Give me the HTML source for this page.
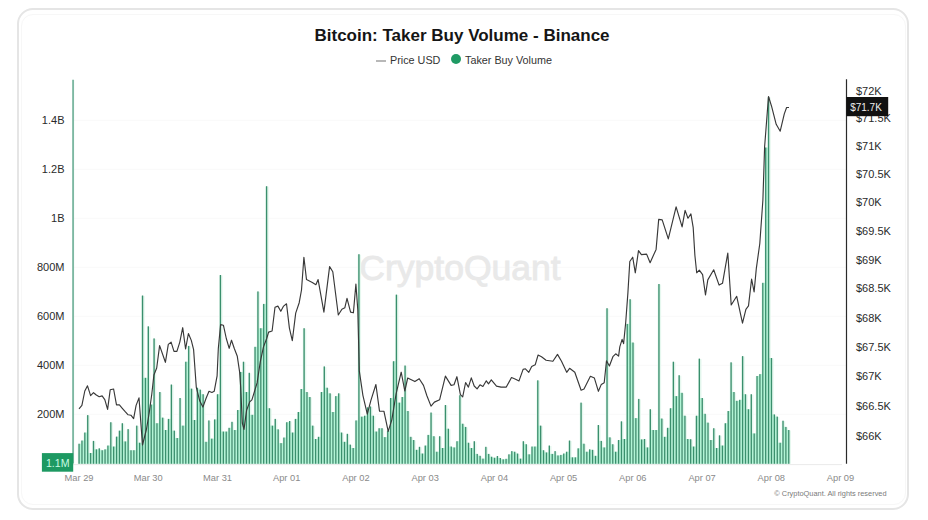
<!DOCTYPE html>
<html><head><meta charset="utf-8"><style>
html,body{margin:0;padding:0;background:#fff;width:928px;height:520px;overflow:hidden}
body{position:relative;font-family:"Liberation Sans",sans-serif}
.card{position:absolute;left:17px;top:8px;width:892px;height:502px;border:2px solid #e5e5e5;border-radius:16px;box-sizing:border-box}
.card2{position:absolute;left:20.5px;top:14px;width:885px;height:491px;border:1px solid #f7f7f7;border-radius:12px;box-sizing:border-box}
.title{position:absolute;left:314.5px;top:26px;font-weight:bold;font-size:17px;color:#151515;white-space:nowrap;line-height:20px}
.legend{position:absolute;top:53px;left:0;width:928px;height:14px;font-size:11px;color:#333;white-space:nowrap}
.yl{position:absolute;left:0;width:64.5px;text-align:right;font-size:11px;color:#2a2a2a;white-space:nowrap;line-height:13px}
.yr{position:absolute;left:856px;font-size:11px;color:#2a2a2a;white-space:nowrap;line-height:13px}
.xl{position:absolute;top:472.5px;width:40px;text-align:center;font-size:9.3px;color:#8a8a8a;white-space:nowrap;line-height:11px}
svg{position:absolute;left:0;top:0}
</style></head><body>
<div class="card"></div><div class="card2"></div>
<svg width="928" height="520" viewBox="0 0 928 520">
<line x1="73" x2="846" y1="120.3" y2="120.3" stroke="#f9f9f9" stroke-width="1"/><line x1="73" x2="846" y1="169.3" y2="169.3" stroke="#f9f9f9" stroke-width="1"/><line x1="73" x2="846" y1="218.3" y2="218.3" stroke="#f9f9f9" stroke-width="1"/><line x1="73" x2="846" y1="267.3" y2="267.3" stroke="#f9f9f9" stroke-width="1"/><line x1="73" x2="846" y1="316.3" y2="316.3" stroke="#f9f9f9" stroke-width="1"/><line x1="73" x2="846" y1="365.3" y2="365.3" stroke="#f9f9f9" stroke-width="1"/><line x1="73" x2="846" y1="414.3" y2="414.3" stroke="#f9f9f9" stroke-width="1"/>
<text x="460" y="280" text-anchor="middle" font-family="Liberation Sans" font-size="35.5" fill="#e9e9e9" stroke="#e9e9e9" stroke-width="0.9">CryptoQuant</text>
<line x1="73" x2="842" y1="464.6" y2="464.6" stroke="#ebebeb" stroke-width="1"/>
<rect x="77.70" y="444.2" width="3.55" height="19.6" fill="#e6f8ef"/><rect x="80.59" y="441.0" width="3.55" height="22.8" fill="#e6f8ef"/><rect x="83.47" y="433.0" width="3.55" height="30.8" fill="#e6f8ef"/><rect x="86.36" y="415.6" width="3.55" height="48.2" fill="#e6f8ef"/><rect x="89.24" y="453.5" width="3.55" height="10.3" fill="#e6f8ef"/><rect x="92.12" y="441.4" width="3.55" height="22.4" fill="#e6f8ef"/><rect x="95.01" y="449.8" width="3.55" height="14.0" fill="#e6f8ef"/><rect x="97.89" y="448.8" width="3.55" height="15.0" fill="#e6f8ef"/><rect x="100.78" y="450.7" width="3.55" height="13.1" fill="#e6f8ef"/><rect x="103.67" y="449.8" width="3.55" height="14.0" fill="#e6f8ef"/><rect x="106.55" y="446.0" width="3.55" height="17.8" fill="#e6f8ef"/><rect x="109.44" y="422.7" width="3.55" height="41.1" fill="#e6f8ef"/><rect x="112.32" y="447.0" width="3.55" height="16.8" fill="#e6f8ef"/><rect x="115.20" y="437.1" width="3.55" height="26.7" fill="#e6f8ef"/><rect x="118.09" y="431.1" width="3.55" height="32.7" fill="#e6f8ef"/><rect x="120.98" y="423.7" width="3.55" height="40.1" fill="#e6f8ef"/><rect x="123.86" y="441.9" width="3.55" height="21.9" fill="#e6f8ef"/><rect x="126.74" y="429.6" width="3.55" height="34.2" fill="#e6f8ef"/><rect x="129.63" y="450.7" width="3.55" height="13.1" fill="#e6f8ef"/><rect x="132.52" y="450.7" width="3.55" height="13.1" fill="#e6f8ef"/><rect x="135.40" y="426.1" width="3.55" height="37.7" fill="#e6f8ef"/><rect x="138.29" y="443.2" width="3.55" height="20.6" fill="#e6f8ef"/><rect x="141.17" y="296.0" width="3.55" height="167.8" fill="#e6f8ef"/><rect x="144.06" y="378.3" width="3.55" height="85.5" fill="#e6f8ef"/><rect x="146.94" y="326.8" width="3.55" height="137.0" fill="#e6f8ef"/><rect x="149.83" y="405.0" width="3.55" height="58.8" fill="#e6f8ef"/><rect x="152.71" y="338.9" width="3.55" height="124.9" fill="#e6f8ef"/><rect x="155.60" y="423.7" width="3.55" height="40.1" fill="#e6f8ef"/><rect x="158.48" y="392.5" width="3.55" height="71.3" fill="#e6f8ef"/><rect x="161.37" y="418.1" width="3.55" height="45.7" fill="#e6f8ef"/><rect x="164.25" y="430.5" width="3.55" height="33.3" fill="#e6f8ef"/><rect x="167.13" y="419.4" width="3.55" height="44.4" fill="#e6f8ef"/><rect x="170.02" y="385.0" width="3.55" height="78.8" fill="#e6f8ef"/><rect x="172.91" y="431.1" width="3.55" height="32.7" fill="#e6f8ef"/><rect x="175.79" y="438.5" width="3.55" height="25.3" fill="#e6f8ef"/><rect x="178.68" y="398.5" width="3.55" height="65.3" fill="#e6f8ef"/><rect x="181.56" y="426.1" width="3.55" height="37.7" fill="#e6f8ef"/><rect x="184.44" y="362.2" width="3.55" height="101.6" fill="#e6f8ef"/><rect x="187.33" y="346.4" width="3.55" height="117.4" fill="#e6f8ef"/><rect x="190.22" y="389.1" width="3.55" height="74.7" fill="#e6f8ef"/><rect x="193.10" y="420.5" width="3.55" height="43.3" fill="#e6f8ef"/><rect x="195.99" y="388.2" width="3.55" height="75.6" fill="#e6f8ef"/><rect x="198.87" y="390.1" width="3.55" height="73.7" fill="#e6f8ef"/><rect x="201.75" y="394.7" width="3.55" height="69.1" fill="#e6f8ef"/><rect x="204.64" y="442.3" width="3.55" height="21.5" fill="#e6f8ef"/><rect x="207.53" y="420.9" width="3.55" height="42.9" fill="#e6f8ef"/><rect x="210.41" y="439.1" width="3.55" height="24.7" fill="#e6f8ef"/><rect x="213.30" y="419.9" width="3.55" height="43.9" fill="#e6f8ef"/><rect x="216.18" y="394.7" width="3.55" height="69.1" fill="#e6f8ef"/><rect x="219.06" y="275.5" width="3.55" height="188.3" fill="#e6f8ef"/><rect x="221.95" y="432.0" width="3.55" height="31.8" fill="#e6f8ef"/><rect x="224.84" y="432.0" width="3.55" height="31.8" fill="#e6f8ef"/><rect x="227.72" y="428.3" width="3.55" height="35.5" fill="#e6f8ef"/><rect x="230.61" y="422.3" width="3.55" height="41.5" fill="#e6f8ef"/><rect x="233.49" y="430.5" width="3.55" height="33.3" fill="#e6f8ef"/><rect x="236.38" y="410.5" width="3.55" height="53.3" fill="#e6f8ef"/><rect x="239.26" y="372.5" width="3.55" height="91.3" fill="#e6f8ef"/><rect x="242.15" y="362.2" width="3.55" height="101.6" fill="#e6f8ef"/><rect x="245.03" y="392.5" width="3.55" height="71.3" fill="#e6f8ef"/><rect x="247.91" y="373.3" width="3.55" height="90.5" fill="#e6f8ef"/><rect x="250.80" y="415.3" width="3.55" height="48.5" fill="#e6f8ef"/><rect x="253.69" y="347.3" width="3.55" height="116.5" fill="#e6f8ef"/><rect x="256.57" y="291.9" width="3.55" height="171.9" fill="#e6f8ef"/><rect x="259.45" y="328.7" width="3.55" height="135.1" fill="#e6f8ef"/><rect x="262.34" y="304.4" width="3.55" height="159.4" fill="#e6f8ef"/><rect x="265.22" y="186.7" width="3.55" height="277.1" fill="#e6f8ef"/><rect x="268.11" y="408.7" width="3.55" height="55.1" fill="#e6f8ef"/><rect x="271.00" y="426.1" width="3.55" height="37.7" fill="#e6f8ef"/><rect x="273.88" y="419.4" width="3.55" height="44.4" fill="#e6f8ef"/><rect x="276.77" y="429.8" width="3.55" height="34.0" fill="#e6f8ef"/><rect x="279.65" y="443.6" width="3.55" height="20.2" fill="#e6f8ef"/><rect x="282.54" y="438.0" width="3.55" height="25.8" fill="#e6f8ef"/><rect x="285.42" y="422.7" width="3.55" height="41.1" fill="#e6f8ef"/><rect x="288.31" y="421.5" width="3.55" height="42.3" fill="#e6f8ef"/><rect x="291.19" y="433.0" width="3.55" height="30.8" fill="#e6f8ef"/><rect x="294.07" y="419.4" width="3.55" height="44.4" fill="#e6f8ef"/><rect x="296.96" y="412.5" width="3.55" height="51.3" fill="#e6f8ef"/><rect x="299.84" y="389.5" width="3.55" height="74.3" fill="#e6f8ef"/><rect x="302.73" y="328.7" width="3.55" height="135.1" fill="#e6f8ef"/><rect x="305.62" y="392.5" width="3.55" height="71.3" fill="#e6f8ef"/><rect x="308.50" y="397.5" width="3.55" height="66.3" fill="#e6f8ef"/><rect x="311.38" y="426.1" width="3.55" height="37.7" fill="#e6f8ef"/><rect x="314.27" y="439.5" width="3.55" height="24.3" fill="#e6f8ef"/><rect x="317.16" y="437.3" width="3.55" height="26.5" fill="#e6f8ef"/><rect x="320.04" y="392.5" width="3.55" height="71.3" fill="#e6f8ef"/><rect x="322.93" y="366.9" width="3.55" height="96.9" fill="#e6f8ef"/><rect x="325.81" y="388.2" width="3.55" height="75.6" fill="#e6f8ef"/><rect x="328.69" y="393.8" width="3.55" height="70.0" fill="#e6f8ef"/><rect x="331.58" y="412.5" width="3.55" height="51.3" fill="#e6f8ef"/><rect x="334.46" y="396.6" width="3.55" height="67.2" fill="#e6f8ef"/><rect x="337.35" y="393.8" width="3.55" height="70.0" fill="#e6f8ef"/><rect x="340.23" y="433.0" width="3.55" height="30.8" fill="#e6f8ef"/><rect x="343.12" y="442.3" width="3.55" height="21.5" fill="#e6f8ef"/><rect x="346.01" y="434.3" width="3.55" height="29.5" fill="#e6f8ef"/><rect x="348.89" y="445.1" width="3.55" height="18.7" fill="#e6f8ef"/><rect x="351.78" y="448.5" width="3.55" height="15.3" fill="#e6f8ef"/><rect x="354.66" y="420.9" width="3.55" height="42.9" fill="#e6f8ef"/><rect x="357.55" y="254.7" width="3.55" height="209.1" fill="#e6f8ef"/><rect x="360.43" y="417.1" width="3.55" height="46.7" fill="#e6f8ef"/><rect x="363.31" y="416.2" width="3.55" height="47.6" fill="#e6f8ef"/><rect x="366.20" y="407.8" width="3.55" height="56.0" fill="#e6f8ef"/><rect x="369.08" y="406.9" width="3.55" height="56.9" fill="#e6f8ef"/><rect x="371.97" y="416.2" width="3.55" height="47.6" fill="#e6f8ef"/><rect x="374.85" y="432.0" width="3.55" height="31.8" fill="#e6f8ef"/><rect x="377.74" y="428.7" width="3.55" height="35.1" fill="#e6f8ef"/><rect x="380.62" y="428.7" width="3.55" height="35.1" fill="#e6f8ef"/><rect x="383.51" y="437.6" width="3.55" height="26.2" fill="#e6f8ef"/><rect x="386.40" y="431.1" width="3.55" height="32.7" fill="#e6f8ef"/><rect x="389.28" y="398.5" width="3.55" height="65.3" fill="#e6f8ef"/><rect x="392.17" y="361.7" width="3.55" height="102.1" fill="#e6f8ef"/><rect x="395.05" y="295.1" width="3.55" height="168.7" fill="#e6f8ef"/><rect x="397.94" y="403.1" width="3.55" height="60.7" fill="#e6f8ef"/><rect x="400.82" y="397.5" width="3.55" height="66.3" fill="#e6f8ef"/><rect x="403.70" y="366.0" width="3.55" height="97.8" fill="#e6f8ef"/><rect x="406.59" y="411.5" width="3.55" height="52.3" fill="#e6f8ef"/><rect x="409.47" y="437.3" width="3.55" height="26.5" fill="#e6f8ef"/><rect x="412.36" y="440.5" width="3.55" height="23.3" fill="#e6f8ef"/><rect x="415.24" y="450.3" width="3.55" height="13.5" fill="#e6f8ef"/><rect x="418.13" y="447.3" width="3.55" height="16.5" fill="#e6f8ef"/><rect x="421.02" y="454.0" width="3.55" height="9.8" fill="#e6f8ef"/><rect x="423.90" y="446.0" width="3.55" height="17.8" fill="#e6f8ef"/><rect x="426.79" y="435.4" width="3.55" height="28.4" fill="#e6f8ef"/><rect x="429.67" y="413.0" width="3.55" height="50.8" fill="#e6f8ef"/><rect x="432.56" y="436.7" width="3.55" height="27.1" fill="#e6f8ef"/><rect x="435.44" y="452.2" width="3.55" height="11.6" fill="#e6f8ef"/><rect x="438.32" y="436.7" width="3.55" height="27.1" fill="#e6f8ef"/><rect x="441.21" y="448.5" width="3.55" height="15.3" fill="#e6f8ef"/><rect x="444.09" y="405.5" width="3.55" height="58.3" fill="#e6f8ef"/><rect x="446.98" y="429.2" width="3.55" height="34.6" fill="#e6f8ef"/><rect x="449.86" y="447.0" width="3.55" height="16.8" fill="#e6f8ef"/><rect x="452.75" y="447.9" width="3.55" height="15.9" fill="#e6f8ef"/><rect x="455.63" y="441.7" width="3.55" height="22.1" fill="#e6f8ef"/><rect x="458.52" y="395.7" width="3.55" height="68.1" fill="#e6f8ef"/><rect x="461.41" y="424.2" width="3.55" height="39.6" fill="#e6f8ef"/><rect x="464.29" y="427.4" width="3.55" height="36.4" fill="#e6f8ef"/><rect x="467.18" y="443.2" width="3.55" height="20.6" fill="#e6f8ef"/><rect x="470.06" y="448.5" width="3.55" height="15.3" fill="#e6f8ef"/><rect x="472.94" y="441.7" width="3.55" height="22.1" fill="#e6f8ef"/><rect x="475.83" y="454.4" width="3.55" height="9.4" fill="#e6f8ef"/><rect x="478.71" y="456.3" width="3.55" height="7.5" fill="#e6f8ef"/><rect x="481.60" y="459.1" width="3.55" height="4.7" fill="#e6f8ef"/><rect x="484.48" y="447.3" width="3.55" height="16.5" fill="#e6f8ef"/><rect x="487.37" y="454.4" width="3.55" height="9.4" fill="#e6f8ef"/><rect x="490.25" y="457.2" width="3.55" height="6.6" fill="#e6f8ef"/><rect x="493.14" y="458.2" width="3.55" height="5.6" fill="#e6f8ef"/><rect x="496.03" y="456.5" width="3.55" height="7.3" fill="#e6f8ef"/><rect x="498.91" y="458.5" width="3.55" height="5.3" fill="#e6f8ef"/><rect x="501.80" y="459.8" width="3.55" height="4.0" fill="#e6f8ef"/><rect x="504.68" y="459.3" width="3.55" height="4.5" fill="#e6f8ef"/><rect x="507.56" y="454.8" width="3.55" height="9.0" fill="#e6f8ef"/><rect x="510.45" y="451.6" width="3.55" height="12.2" fill="#e6f8ef"/><rect x="513.33" y="452.2" width="3.55" height="11.6" fill="#e6f8ef"/><rect x="516.22" y="454.0" width="3.55" height="9.8" fill="#e6f8ef"/><rect x="519.10" y="459.1" width="3.55" height="4.7" fill="#e6f8ef"/><rect x="521.99" y="441.7" width="3.55" height="22.1" fill="#e6f8ef"/><rect x="524.87" y="444.7" width="3.55" height="19.1" fill="#e6f8ef"/><rect x="527.76" y="454.8" width="3.55" height="9.0" fill="#e6f8ef"/><rect x="530.64" y="447.0" width="3.55" height="16.8" fill="#e6f8ef"/><rect x="533.53" y="447.0" width="3.55" height="16.8" fill="#e6f8ef"/><rect x="536.41" y="380.8" width="3.55" height="83.0" fill="#e6f8ef"/><rect x="539.30" y="426.1" width="3.55" height="37.7" fill="#e6f8ef"/><rect x="542.18" y="450.7" width="3.55" height="13.1" fill="#e6f8ef"/><rect x="545.07" y="452.9" width="3.55" height="10.9" fill="#e6f8ef"/><rect x="547.95" y="446.0" width="3.55" height="17.8" fill="#e6f8ef"/><rect x="550.84" y="454.4" width="3.55" height="9.4" fill="#e6f8ef"/><rect x="553.72" y="451.6" width="3.55" height="12.2" fill="#e6f8ef"/><rect x="556.61" y="455.9" width="3.55" height="7.9" fill="#e6f8ef"/><rect x="559.49" y="455.4" width="3.55" height="8.4" fill="#e6f8ef"/><rect x="562.38" y="454.0" width="3.55" height="9.8" fill="#e6f8ef"/><rect x="565.26" y="452.2" width="3.55" height="11.6" fill="#e6f8ef"/><rect x="568.15" y="441.0" width="3.55" height="22.8" fill="#e6f8ef"/><rect x="571.03" y="457.8" width="3.55" height="6.0" fill="#e6f8ef"/><rect x="573.92" y="457.8" width="3.55" height="6.0" fill="#e6f8ef"/><rect x="576.80" y="448.8" width="3.55" height="15.0" fill="#e6f8ef"/><rect x="579.69" y="403.1" width="3.55" height="60.7" fill="#e6f8ef"/><rect x="582.57" y="444.2" width="3.55" height="19.6" fill="#e6f8ef"/><rect x="585.46" y="452.2" width="3.55" height="11.6" fill="#e6f8ef"/><rect x="588.34" y="449.8" width="3.55" height="14.0" fill="#e6f8ef"/><rect x="591.23" y="450.3" width="3.55" height="13.5" fill="#e6f8ef"/><rect x="594.11" y="456.3" width="3.55" height="7.5" fill="#e6f8ef"/><rect x="597.00" y="425.5" width="3.55" height="38.3" fill="#e6f8ef"/><rect x="599.88" y="441.4" width="3.55" height="22.4" fill="#e6f8ef"/><rect x="602.77" y="447.9" width="3.55" height="15.9" fill="#e6f8ef"/><rect x="605.65" y="308.7" width="3.55" height="155.1" fill="#e6f8ef"/><rect x="608.54" y="437.8" width="3.55" height="26.0" fill="#e6f8ef"/><rect x="611.42" y="444.7" width="3.55" height="19.1" fill="#e6f8ef"/><rect x="614.31" y="452.2" width="3.55" height="11.6" fill="#e6f8ef"/><rect x="617.19" y="440.5" width="3.55" height="23.3" fill="#e6f8ef"/><rect x="620.08" y="421.8" width="3.55" height="42.0" fill="#e6f8ef"/><rect x="622.96" y="439.5" width="3.55" height="24.3" fill="#e6f8ef"/><rect x="625.85" y="324.4" width="3.55" height="139.4" fill="#e6f8ef"/><rect x="628.73" y="299.7" width="3.55" height="164.1" fill="#e6f8ef"/><rect x="631.62" y="343.0" width="3.55" height="120.8" fill="#e6f8ef"/><rect x="634.50" y="418.6" width="3.55" height="45.2" fill="#e6f8ef"/><rect x="637.39" y="399.4" width="3.55" height="64.4" fill="#e6f8ef"/><rect x="640.27" y="439.9" width="3.55" height="23.9" fill="#e6f8ef"/><rect x="643.16" y="439.5" width="3.55" height="24.3" fill="#e6f8ef"/><rect x="646.04" y="447.9" width="3.55" height="15.9" fill="#e6f8ef"/><rect x="648.93" y="409.7" width="3.55" height="54.1" fill="#e6f8ef"/><rect x="651.81" y="430.5" width="3.55" height="33.3" fill="#e6f8ef"/><rect x="654.70" y="430.5" width="3.55" height="33.3" fill="#e6f8ef"/><rect x="657.58" y="284.5" width="3.55" height="179.3" fill="#e6f8ef"/><rect x="660.47" y="419.0" width="3.55" height="44.8" fill="#e6f8ef"/><rect x="663.35" y="437.3" width="3.55" height="26.5" fill="#e6f8ef"/><rect x="666.24" y="428.3" width="3.55" height="35.5" fill="#e6f8ef"/><rect x="669.12" y="408.7" width="3.55" height="55.1" fill="#e6f8ef"/><rect x="672.01" y="362.2" width="3.55" height="101.6" fill="#e6f8ef"/><rect x="674.89" y="396.6" width="3.55" height="67.2" fill="#e6f8ef"/><rect x="677.78" y="375.7" width="3.55" height="88.1" fill="#e6f8ef"/><rect x="680.66" y="393.3" width="3.55" height="70.5" fill="#e6f8ef"/><rect x="683.55" y="416.2" width="3.55" height="47.6" fill="#e6f8ef"/><rect x="686.43" y="439.5" width="3.55" height="24.3" fill="#e6f8ef"/><rect x="689.32" y="439.7" width="3.55" height="24.1" fill="#e6f8ef"/><rect x="692.20" y="447.0" width="3.55" height="16.8" fill="#e6f8ef"/><rect x="695.09" y="416.2" width="3.55" height="47.6" fill="#e6f8ef"/><rect x="697.97" y="359.1" width="3.55" height="104.7" fill="#e6f8ef"/><rect x="700.86" y="398.5" width="3.55" height="65.3" fill="#e6f8ef"/><rect x="703.74" y="414.3" width="3.55" height="49.5" fill="#e6f8ef"/><rect x="706.63" y="423.1" width="3.55" height="40.7" fill="#e6f8ef"/><rect x="709.51" y="440.5" width="3.55" height="23.3" fill="#e6f8ef"/><rect x="712.40" y="428.7" width="3.55" height="35.1" fill="#e6f8ef"/><rect x="715.28" y="448.5" width="3.55" height="15.3" fill="#e6f8ef"/><rect x="718.17" y="435.8" width="3.55" height="28.0" fill="#e6f8ef"/><rect x="721.05" y="446.0" width="3.55" height="17.8" fill="#e6f8ef"/><rect x="723.94" y="423.7" width="3.55" height="40.1" fill="#e6f8ef"/><rect x="726.82" y="411.5" width="3.55" height="52.3" fill="#e6f8ef"/><rect x="729.71" y="362.8" width="3.55" height="101.0" fill="#e6f8ef"/><rect x="732.59" y="392.5" width="3.55" height="71.3" fill="#e6f8ef"/><rect x="735.48" y="401.3" width="3.55" height="62.5" fill="#e6f8ef"/><rect x="738.36" y="400.3" width="3.55" height="63.5" fill="#e6f8ef"/><rect x="741.25" y="356.6" width="3.55" height="107.2" fill="#e6f8ef"/><rect x="744.13" y="394.7" width="3.55" height="69.1" fill="#e6f8ef"/><rect x="747.02" y="409.7" width="3.55" height="54.1" fill="#e6f8ef"/><rect x="749.90" y="394.7" width="3.55" height="69.1" fill="#e6f8ef"/><rect x="752.79" y="433.9" width="3.55" height="29.9" fill="#e6f8ef"/><rect x="755.67" y="376.5" width="3.55" height="87.3" fill="#e6f8ef"/><rect x="758.56" y="374.6" width="3.55" height="89.2" fill="#e6f8ef"/><rect x="761.44" y="283.3" width="3.55" height="180.5" fill="#e6f8ef"/><rect x="764.33" y="148.0" width="3.55" height="315.8" fill="#e6f8ef"/><rect x="767.21" y="97.5" width="3.55" height="366.3" fill="#e6f8ef"/><rect x="770.10" y="358.5" width="3.55" height="105.3" fill="#e6f8ef"/><rect x="772.98" y="414.9" width="3.55" height="48.9" fill="#e6f8ef"/><rect x="775.87" y="417.1" width="3.55" height="46.7" fill="#e6f8ef"/><rect x="778.75" y="443.2" width="3.55" height="20.6" fill="#e6f8ef"/><rect x="781.64" y="421.2" width="3.55" height="42.6" fill="#e6f8ef"/><rect x="784.52" y="427.4" width="3.55" height="36.4" fill="#e6f8ef"/><rect x="787.41" y="430.5" width="3.55" height="33.3" fill="#e6f8ef"/><rect x="79.75" y="443.7" width="1.53" height="20.1" fill="#b2f5d6"/><rect x="82.64" y="440.5" width="1.53" height="23.3" fill="#b2f5d6"/><rect x="85.52" y="432.5" width="1.53" height="31.3" fill="#b2f5d6"/><rect x="88.41" y="453.0" width="1.53" height="10.8" fill="#b2f5d6"/><rect x="91.29" y="453.0" width="1.53" height="10.8" fill="#b2f5d6"/><rect x="94.17" y="449.3" width="1.53" height="14.5" fill="#b2f5d6"/><rect x="97.06" y="449.3" width="1.53" height="14.5" fill="#b2f5d6"/><rect x="99.94" y="450.2" width="1.53" height="13.6" fill="#b2f5d6"/><rect x="102.83" y="450.2" width="1.53" height="13.6" fill="#b2f5d6"/><rect x="105.72" y="449.3" width="1.53" height="14.5" fill="#b2f5d6"/><rect x="108.60" y="445.5" width="1.53" height="18.3" fill="#b2f5d6"/><rect x="111.48" y="446.5" width="1.53" height="17.3" fill="#b2f5d6"/><rect x="114.37" y="446.5" width="1.53" height="17.3" fill="#b2f5d6"/><rect x="117.25" y="436.6" width="1.53" height="27.2" fill="#b2f5d6"/><rect x="120.14" y="430.6" width="1.53" height="33.2" fill="#b2f5d6"/><rect x="123.03" y="441.4" width="1.53" height="22.4" fill="#b2f5d6"/><rect x="125.91" y="441.4" width="1.53" height="22.4" fill="#b2f5d6"/><rect x="128.79" y="450.2" width="1.53" height="13.6" fill="#b2f5d6"/><rect x="131.68" y="450.2" width="1.53" height="13.6" fill="#b2f5d6"/><rect x="134.56" y="450.2" width="1.53" height="13.6" fill="#b2f5d6"/><rect x="137.45" y="442.7" width="1.53" height="21.1" fill="#b2f5d6"/><rect x="140.34" y="442.7" width="1.53" height="21.1" fill="#b2f5d6"/><rect x="143.22" y="377.8" width="1.53" height="86.0" fill="#b2f5d6"/><rect x="146.10" y="377.8" width="1.53" height="86.0" fill="#b2f5d6"/><rect x="148.99" y="404.5" width="1.53" height="59.3" fill="#b2f5d6"/><rect x="151.88" y="404.5" width="1.53" height="59.3" fill="#b2f5d6"/><rect x="154.76" y="423.2" width="1.53" height="40.6" fill="#b2f5d6"/><rect x="157.65" y="423.2" width="1.53" height="40.6" fill="#b2f5d6"/><rect x="160.53" y="417.6" width="1.53" height="46.2" fill="#b2f5d6"/><rect x="163.41" y="430.0" width="1.53" height="33.8" fill="#b2f5d6"/><rect x="166.30" y="430.0" width="1.53" height="33.8" fill="#b2f5d6"/><rect x="169.18" y="418.9" width="1.53" height="44.9" fill="#b2f5d6"/><rect x="172.07" y="430.6" width="1.53" height="33.2" fill="#b2f5d6"/><rect x="174.96" y="438.0" width="1.53" height="25.8" fill="#b2f5d6"/><rect x="177.84" y="438.0" width="1.53" height="25.8" fill="#b2f5d6"/><rect x="180.72" y="425.6" width="1.53" height="38.2" fill="#b2f5d6"/><rect x="183.61" y="425.6" width="1.53" height="38.2" fill="#b2f5d6"/><rect x="186.49" y="361.7" width="1.53" height="102.1" fill="#b2f5d6"/><rect x="189.38" y="388.6" width="1.53" height="75.2" fill="#b2f5d6"/><rect x="192.26" y="420.0" width="1.53" height="43.8" fill="#b2f5d6"/><rect x="195.15" y="420.0" width="1.53" height="43.8" fill="#b2f5d6"/><rect x="198.03" y="389.6" width="1.53" height="74.2" fill="#b2f5d6"/><rect x="200.92" y="394.2" width="1.53" height="69.6" fill="#b2f5d6"/><rect x="203.80" y="441.8" width="1.53" height="22.0" fill="#b2f5d6"/><rect x="206.69" y="441.8" width="1.53" height="22.0" fill="#b2f5d6"/><rect x="209.57" y="438.6" width="1.53" height="25.2" fill="#b2f5d6"/><rect x="212.46" y="438.6" width="1.53" height="25.2" fill="#b2f5d6"/><rect x="215.34" y="419.4" width="1.53" height="44.4" fill="#b2f5d6"/><rect x="218.23" y="394.2" width="1.53" height="69.6" fill="#b2f5d6"/><rect x="221.11" y="431.5" width="1.53" height="32.3" fill="#b2f5d6"/><rect x="224.00" y="431.5" width="1.53" height="32.3" fill="#b2f5d6"/><rect x="226.88" y="431.5" width="1.53" height="32.3" fill="#b2f5d6"/><rect x="229.77" y="427.8" width="1.53" height="36.0" fill="#b2f5d6"/><rect x="232.66" y="430.0" width="1.53" height="33.8" fill="#b2f5d6"/><rect x="235.54" y="430.0" width="1.53" height="33.8" fill="#b2f5d6"/><rect x="238.42" y="410.0" width="1.53" height="53.8" fill="#b2f5d6"/><rect x="241.31" y="372.0" width="1.53" height="91.8" fill="#b2f5d6"/><rect x="244.19" y="392.0" width="1.53" height="71.8" fill="#b2f5d6"/><rect x="247.08" y="392.0" width="1.53" height="71.8" fill="#b2f5d6"/><rect x="249.96" y="414.8" width="1.53" height="49.0" fill="#b2f5d6"/><rect x="252.85" y="414.8" width="1.53" height="49.0" fill="#b2f5d6"/><rect x="255.73" y="346.8" width="1.53" height="117.0" fill="#b2f5d6"/><rect x="258.62" y="328.2" width="1.53" height="135.6" fill="#b2f5d6"/><rect x="261.50" y="328.2" width="1.53" height="135.6" fill="#b2f5d6"/><rect x="264.39" y="303.9" width="1.53" height="159.9" fill="#b2f5d6"/><rect x="267.27" y="408.2" width="1.53" height="55.6" fill="#b2f5d6"/><rect x="270.16" y="425.6" width="1.53" height="38.2" fill="#b2f5d6"/><rect x="273.05" y="425.6" width="1.53" height="38.2" fill="#b2f5d6"/><rect x="275.93" y="429.3" width="1.53" height="34.5" fill="#b2f5d6"/><rect x="278.82" y="443.1" width="1.53" height="20.7" fill="#b2f5d6"/><rect x="281.70" y="443.1" width="1.53" height="20.7" fill="#b2f5d6"/><rect x="284.59" y="437.5" width="1.53" height="26.3" fill="#b2f5d6"/><rect x="287.47" y="422.2" width="1.53" height="41.6" fill="#b2f5d6"/><rect x="290.36" y="432.5" width="1.53" height="31.3" fill="#b2f5d6"/><rect x="293.24" y="432.5" width="1.53" height="31.3" fill="#b2f5d6"/><rect x="296.12" y="418.9" width="1.53" height="44.9" fill="#b2f5d6"/><rect x="299.01" y="412.0" width="1.53" height="51.8" fill="#b2f5d6"/><rect x="301.89" y="389.0" width="1.53" height="74.8" fill="#b2f5d6"/><rect x="304.78" y="392.0" width="1.53" height="71.8" fill="#b2f5d6"/><rect x="307.67" y="397.0" width="1.53" height="66.8" fill="#b2f5d6"/><rect x="310.55" y="425.6" width="1.53" height="38.2" fill="#b2f5d6"/><rect x="313.44" y="439.0" width="1.53" height="24.8" fill="#b2f5d6"/><rect x="316.32" y="439.0" width="1.53" height="24.8" fill="#b2f5d6"/><rect x="319.21" y="436.8" width="1.53" height="27.0" fill="#b2f5d6"/><rect x="322.09" y="392.0" width="1.53" height="71.8" fill="#b2f5d6"/><rect x="324.98" y="387.7" width="1.53" height="76.1" fill="#b2f5d6"/><rect x="327.86" y="393.3" width="1.53" height="70.5" fill="#b2f5d6"/><rect x="330.75" y="412.0" width="1.53" height="51.8" fill="#b2f5d6"/><rect x="333.63" y="412.0" width="1.53" height="51.8" fill="#b2f5d6"/><rect x="336.51" y="396.1" width="1.53" height="67.7" fill="#b2f5d6"/><rect x="339.40" y="432.5" width="1.53" height="31.3" fill="#b2f5d6"/><rect x="342.28" y="441.8" width="1.53" height="22.0" fill="#b2f5d6"/><rect x="345.17" y="441.8" width="1.53" height="22.0" fill="#b2f5d6"/><rect x="348.06" y="444.6" width="1.53" height="19.2" fill="#b2f5d6"/><rect x="350.94" y="448.0" width="1.53" height="15.8" fill="#b2f5d6"/><rect x="353.83" y="448.0" width="1.53" height="15.8" fill="#b2f5d6"/><rect x="356.71" y="420.4" width="1.53" height="43.4" fill="#b2f5d6"/><rect x="359.60" y="416.6" width="1.53" height="47.2" fill="#b2f5d6"/><rect x="362.48" y="416.6" width="1.53" height="47.2" fill="#b2f5d6"/><rect x="365.37" y="415.7" width="1.53" height="48.1" fill="#b2f5d6"/><rect x="368.25" y="407.3" width="1.53" height="56.5" fill="#b2f5d6"/><rect x="371.13" y="415.7" width="1.53" height="48.1" fill="#b2f5d6"/><rect x="374.02" y="431.5" width="1.53" height="32.3" fill="#b2f5d6"/><rect x="376.90" y="431.5" width="1.53" height="32.3" fill="#b2f5d6"/><rect x="379.79" y="428.2" width="1.53" height="35.6" fill="#b2f5d6"/><rect x="382.67" y="437.1" width="1.53" height="26.7" fill="#b2f5d6"/><rect x="385.56" y="437.1" width="1.53" height="26.7" fill="#b2f5d6"/><rect x="388.45" y="430.6" width="1.53" height="33.2" fill="#b2f5d6"/><rect x="391.33" y="398.0" width="1.53" height="65.8" fill="#b2f5d6"/><rect x="394.22" y="361.2" width="1.53" height="102.6" fill="#b2f5d6"/><rect x="397.10" y="402.6" width="1.53" height="61.2" fill="#b2f5d6"/><rect x="399.99" y="402.6" width="1.53" height="61.2" fill="#b2f5d6"/><rect x="402.87" y="397.0" width="1.53" height="66.8" fill="#b2f5d6"/><rect x="405.75" y="411.0" width="1.53" height="52.8" fill="#b2f5d6"/><rect x="408.64" y="436.8" width="1.53" height="27.0" fill="#b2f5d6"/><rect x="411.52" y="440.0" width="1.53" height="23.8" fill="#b2f5d6"/><rect x="414.41" y="449.8" width="1.53" height="14.0" fill="#b2f5d6"/><rect x="417.29" y="449.8" width="1.53" height="14.0" fill="#b2f5d6"/><rect x="420.18" y="453.5" width="1.53" height="10.3" fill="#b2f5d6"/><rect x="423.07" y="453.5" width="1.53" height="10.3" fill="#b2f5d6"/><rect x="425.95" y="445.5" width="1.53" height="18.3" fill="#b2f5d6"/><rect x="428.84" y="434.9" width="1.53" height="28.9" fill="#b2f5d6"/><rect x="431.72" y="436.2" width="1.53" height="27.6" fill="#b2f5d6"/><rect x="434.61" y="451.7" width="1.53" height="12.1" fill="#b2f5d6"/><rect x="437.49" y="451.7" width="1.53" height="12.1" fill="#b2f5d6"/><rect x="440.38" y="448.0" width="1.53" height="15.8" fill="#b2f5d6"/><rect x="443.26" y="448.0" width="1.53" height="15.8" fill="#b2f5d6"/><rect x="446.14" y="428.7" width="1.53" height="35.1" fill="#b2f5d6"/><rect x="449.03" y="446.5" width="1.53" height="17.3" fill="#b2f5d6"/><rect x="451.91" y="447.4" width="1.53" height="16.4" fill="#b2f5d6"/><rect x="454.80" y="447.4" width="1.53" height="16.4" fill="#b2f5d6"/><rect x="457.68" y="441.2" width="1.53" height="22.6" fill="#b2f5d6"/><rect x="460.57" y="423.7" width="1.53" height="40.1" fill="#b2f5d6"/><rect x="463.46" y="426.9" width="1.53" height="36.9" fill="#b2f5d6"/><rect x="466.34" y="442.7" width="1.53" height="21.1" fill="#b2f5d6"/><rect x="469.23" y="448.0" width="1.53" height="15.8" fill="#b2f5d6"/><rect x="472.11" y="448.0" width="1.53" height="15.8" fill="#b2f5d6"/><rect x="475.00" y="453.9" width="1.53" height="9.9" fill="#b2f5d6"/><rect x="477.88" y="455.8" width="1.53" height="8.0" fill="#b2f5d6"/><rect x="480.76" y="458.6" width="1.53" height="5.2" fill="#b2f5d6"/><rect x="483.65" y="458.6" width="1.53" height="5.2" fill="#b2f5d6"/><rect x="486.53" y="453.9" width="1.53" height="9.9" fill="#b2f5d6"/><rect x="489.42" y="456.7" width="1.53" height="7.1" fill="#b2f5d6"/><rect x="492.30" y="457.7" width="1.53" height="6.1" fill="#b2f5d6"/><rect x="495.19" y="457.7" width="1.53" height="6.1" fill="#b2f5d6"/><rect x="498.08" y="458.0" width="1.53" height="5.8" fill="#b2f5d6"/><rect x="500.96" y="459.3" width="1.53" height="4.5" fill="#b2f5d6"/><rect x="503.85" y="459.3" width="1.53" height="4.5" fill="#b2f5d6"/><rect x="506.73" y="458.8" width="1.53" height="5.0" fill="#b2f5d6"/><rect x="509.62" y="454.3" width="1.53" height="9.5" fill="#b2f5d6"/><rect x="512.50" y="451.7" width="1.53" height="12.1" fill="#b2f5d6"/><rect x="515.38" y="453.5" width="1.53" height="10.3" fill="#b2f5d6"/><rect x="518.27" y="458.6" width="1.53" height="5.2" fill="#b2f5d6"/><rect x="521.15" y="458.6" width="1.53" height="5.2" fill="#b2f5d6"/><rect x="524.04" y="444.2" width="1.53" height="19.6" fill="#b2f5d6"/><rect x="526.92" y="454.3" width="1.53" height="9.5" fill="#b2f5d6"/><rect x="529.81" y="454.3" width="1.53" height="9.5" fill="#b2f5d6"/><rect x="532.70" y="446.5" width="1.53" height="17.3" fill="#b2f5d6"/><rect x="535.58" y="446.5" width="1.53" height="17.3" fill="#b2f5d6"/><rect x="538.47" y="425.6" width="1.53" height="38.2" fill="#b2f5d6"/><rect x="541.35" y="450.2" width="1.53" height="13.6" fill="#b2f5d6"/><rect x="544.24" y="452.4" width="1.53" height="11.4" fill="#b2f5d6"/><rect x="547.12" y="452.4" width="1.53" height="11.4" fill="#b2f5d6"/><rect x="550.00" y="453.9" width="1.53" height="9.9" fill="#b2f5d6"/><rect x="552.89" y="453.9" width="1.53" height="9.9" fill="#b2f5d6"/><rect x="555.77" y="455.4" width="1.53" height="8.4" fill="#b2f5d6"/><rect x="558.66" y="455.4" width="1.53" height="8.4" fill="#b2f5d6"/><rect x="561.54" y="454.9" width="1.53" height="8.9" fill="#b2f5d6"/><rect x="564.43" y="453.5" width="1.53" height="10.3" fill="#b2f5d6"/><rect x="567.31" y="451.7" width="1.53" height="12.1" fill="#b2f5d6"/><rect x="570.20" y="457.3" width="1.53" height="6.5" fill="#b2f5d6"/><rect x="573.09" y="457.3" width="1.53" height="6.5" fill="#b2f5d6"/><rect x="575.97" y="457.3" width="1.53" height="6.5" fill="#b2f5d6"/><rect x="578.86" y="448.3" width="1.53" height="15.5" fill="#b2f5d6"/><rect x="581.74" y="443.7" width="1.53" height="20.1" fill="#b2f5d6"/><rect x="584.62" y="451.7" width="1.53" height="12.1" fill="#b2f5d6"/><rect x="587.51" y="451.7" width="1.53" height="12.1" fill="#b2f5d6"/><rect x="590.39" y="449.8" width="1.53" height="14.0" fill="#b2f5d6"/><rect x="593.28" y="455.8" width="1.53" height="8.0" fill="#b2f5d6"/><rect x="596.16" y="455.8" width="1.53" height="8.0" fill="#b2f5d6"/><rect x="599.05" y="440.9" width="1.53" height="22.9" fill="#b2f5d6"/><rect x="601.93" y="447.4" width="1.53" height="16.4" fill="#b2f5d6"/><rect x="604.82" y="447.4" width="1.53" height="16.4" fill="#b2f5d6"/><rect x="607.70" y="437.3" width="1.53" height="26.5" fill="#b2f5d6"/><rect x="610.59" y="444.2" width="1.53" height="19.6" fill="#b2f5d6"/><rect x="613.47" y="451.7" width="1.53" height="12.1" fill="#b2f5d6"/><rect x="616.36" y="451.7" width="1.53" height="12.1" fill="#b2f5d6"/><rect x="619.25" y="440.0" width="1.53" height="23.8" fill="#b2f5d6"/><rect x="622.13" y="439.0" width="1.53" height="24.8" fill="#b2f5d6"/><rect x="625.01" y="439.0" width="1.53" height="24.8" fill="#b2f5d6"/><rect x="627.90" y="323.9" width="1.53" height="139.9" fill="#b2f5d6"/><rect x="630.78" y="342.5" width="1.53" height="121.3" fill="#b2f5d6"/><rect x="633.67" y="418.1" width="1.53" height="45.7" fill="#b2f5d6"/><rect x="636.55" y="418.1" width="1.53" height="45.7" fill="#b2f5d6"/><rect x="639.44" y="439.4" width="1.53" height="24.4" fill="#b2f5d6"/><rect x="642.32" y="439.4" width="1.53" height="24.4" fill="#b2f5d6"/><rect x="645.21" y="447.4" width="1.53" height="16.4" fill="#b2f5d6"/><rect x="648.09" y="447.4" width="1.53" height="16.4" fill="#b2f5d6"/><rect x="650.98" y="430.0" width="1.53" height="33.8" fill="#b2f5d6"/><rect x="653.87" y="430.0" width="1.53" height="33.8" fill="#b2f5d6"/><rect x="656.75" y="430.0" width="1.53" height="33.8" fill="#b2f5d6"/><rect x="659.63" y="418.5" width="1.53" height="45.3" fill="#b2f5d6"/><rect x="662.52" y="436.8" width="1.53" height="27.0" fill="#b2f5d6"/><rect x="665.40" y="436.8" width="1.53" height="27.0" fill="#b2f5d6"/><rect x="668.29" y="427.8" width="1.53" height="36.0" fill="#b2f5d6"/><rect x="671.17" y="408.2" width="1.53" height="55.6" fill="#b2f5d6"/><rect x="674.06" y="396.1" width="1.53" height="67.7" fill="#b2f5d6"/><rect x="676.94" y="396.1" width="1.53" height="67.7" fill="#b2f5d6"/><rect x="679.83" y="392.8" width="1.53" height="71.0" fill="#b2f5d6"/><rect x="682.71" y="415.7" width="1.53" height="48.1" fill="#b2f5d6"/><rect x="685.60" y="439.0" width="1.53" height="24.8" fill="#b2f5d6"/><rect x="688.48" y="439.2" width="1.53" height="24.6" fill="#b2f5d6"/><rect x="691.37" y="446.5" width="1.53" height="17.3" fill="#b2f5d6"/><rect x="694.25" y="446.5" width="1.53" height="17.3" fill="#b2f5d6"/><rect x="697.14" y="415.7" width="1.53" height="48.1" fill="#b2f5d6"/><rect x="700.02" y="398.0" width="1.53" height="65.8" fill="#b2f5d6"/><rect x="702.91" y="413.8" width="1.53" height="50.0" fill="#b2f5d6"/><rect x="705.79" y="422.6" width="1.53" height="41.2" fill="#b2f5d6"/><rect x="708.68" y="440.0" width="1.53" height="23.8" fill="#b2f5d6"/><rect x="711.56" y="440.0" width="1.53" height="23.8" fill="#b2f5d6"/><rect x="714.45" y="448.0" width="1.53" height="15.8" fill="#b2f5d6"/><rect x="717.33" y="448.0" width="1.53" height="15.8" fill="#b2f5d6"/><rect x="720.22" y="445.5" width="1.53" height="18.3" fill="#b2f5d6"/><rect x="723.10" y="445.5" width="1.53" height="18.3" fill="#b2f5d6"/><rect x="725.99" y="423.2" width="1.53" height="40.6" fill="#b2f5d6"/><rect x="728.88" y="411.0" width="1.53" height="52.8" fill="#b2f5d6"/><rect x="731.76" y="392.0" width="1.53" height="71.8" fill="#b2f5d6"/><rect x="734.64" y="400.8" width="1.53" height="63.0" fill="#b2f5d6"/><rect x="737.53" y="400.8" width="1.53" height="63.0" fill="#b2f5d6"/><rect x="740.41" y="399.8" width="1.53" height="64.0" fill="#b2f5d6"/><rect x="743.30" y="394.2" width="1.53" height="69.6" fill="#b2f5d6"/><rect x="746.18" y="409.2" width="1.53" height="54.6" fill="#b2f5d6"/><rect x="749.07" y="409.2" width="1.53" height="54.6" fill="#b2f5d6"/><rect x="751.95" y="433.4" width="1.53" height="30.4" fill="#b2f5d6"/><rect x="754.84" y="433.4" width="1.53" height="30.4" fill="#b2f5d6"/><rect x="757.72" y="376.0" width="1.53" height="87.8" fill="#b2f5d6"/><rect x="760.61" y="374.1" width="1.53" height="89.7" fill="#b2f5d6"/><rect x="763.50" y="282.8" width="1.53" height="181.0" fill="#b2f5d6"/><rect x="766.38" y="147.5" width="1.53" height="316.3" fill="#b2f5d6"/><rect x="769.26" y="358.0" width="1.53" height="105.8" fill="#b2f5d6"/><rect x="772.15" y="414.4" width="1.53" height="49.4" fill="#b2f5d6"/><rect x="775.03" y="416.6" width="1.53" height="47.2" fill="#b2f5d6"/><rect x="777.92" y="442.7" width="1.53" height="21.1" fill="#b2f5d6"/><rect x="780.80" y="442.7" width="1.53" height="21.1" fill="#b2f5d6"/><rect x="783.69" y="426.9" width="1.53" height="36.9" fill="#b2f5d6"/><rect x="786.57" y="430.0" width="1.53" height="33.8" fill="#b2f5d6"/><rect x="78.40" y="443.7" width="1.35" height="20.1" fill="#3a8f6d"/><rect x="81.29" y="440.5" width="1.35" height="23.3" fill="#3a8f6d"/><rect x="84.17" y="432.5" width="1.35" height="31.3" fill="#3a8f6d"/><rect x="87.06" y="415.1" width="1.35" height="48.7" fill="#3a8f6d"/><rect x="89.94" y="453.0" width="1.35" height="10.8" fill="#3a8f6d"/><rect x="92.83" y="440.9" width="1.35" height="22.9" fill="#3a8f6d"/><rect x="95.71" y="449.3" width="1.35" height="14.5" fill="#3a8f6d"/><rect x="98.59" y="448.3" width="1.35" height="15.5" fill="#3a8f6d"/><rect x="101.48" y="450.2" width="1.35" height="13.6" fill="#3a8f6d"/><rect x="104.37" y="449.3" width="1.35" height="14.5" fill="#3a8f6d"/><rect x="107.25" y="445.5" width="1.35" height="18.3" fill="#3a8f6d"/><rect x="110.14" y="422.2" width="1.35" height="41.6" fill="#3a8f6d"/><rect x="113.02" y="446.5" width="1.35" height="17.3" fill="#3a8f6d"/><rect x="115.91" y="436.6" width="1.35" height="27.2" fill="#3a8f6d"/><rect x="118.79" y="430.6" width="1.35" height="33.2" fill="#3a8f6d"/><rect x="121.68" y="423.2" width="1.35" height="40.6" fill="#3a8f6d"/><rect x="124.56" y="441.4" width="1.35" height="22.4" fill="#3a8f6d"/><rect x="127.44" y="429.1" width="1.35" height="34.7" fill="#3a8f6d"/><rect x="130.33" y="450.2" width="1.35" height="13.6" fill="#3a8f6d"/><rect x="133.22" y="450.2" width="1.35" height="13.6" fill="#3a8f6d"/><rect x="136.10" y="425.6" width="1.35" height="38.2" fill="#3a8f6d"/><rect x="138.99" y="442.7" width="1.35" height="21.1" fill="#3a8f6d"/><rect x="141.87" y="295.5" width="1.35" height="168.3" fill="#3a8f6d"/><rect x="144.75" y="377.8" width="1.35" height="86.0" fill="#3a8f6d"/><rect x="147.64" y="326.3" width="1.35" height="137.5" fill="#3a8f6d"/><rect x="150.53" y="404.5" width="1.35" height="59.3" fill="#3a8f6d"/><rect x="153.41" y="338.4" width="1.35" height="125.4" fill="#3a8f6d"/><rect x="156.30" y="423.2" width="1.35" height="40.6" fill="#3a8f6d"/><rect x="159.18" y="392.0" width="1.35" height="71.8" fill="#3a8f6d"/><rect x="162.06" y="417.6" width="1.35" height="46.2" fill="#3a8f6d"/><rect x="164.95" y="430.0" width="1.35" height="33.8" fill="#3a8f6d"/><rect x="167.83" y="418.9" width="1.35" height="44.9" fill="#3a8f6d"/><rect x="170.72" y="384.5" width="1.35" height="79.3" fill="#3a8f6d"/><rect x="173.61" y="430.6" width="1.35" height="33.2" fill="#3a8f6d"/><rect x="176.49" y="438.0" width="1.35" height="25.8" fill="#3a8f6d"/><rect x="179.38" y="398.0" width="1.35" height="65.8" fill="#3a8f6d"/><rect x="182.26" y="425.6" width="1.35" height="38.2" fill="#3a8f6d"/><rect x="185.14" y="361.7" width="1.35" height="102.1" fill="#3a8f6d"/><rect x="188.03" y="345.9" width="1.35" height="117.9" fill="#3a8f6d"/><rect x="190.91" y="388.6" width="1.35" height="75.2" fill="#3a8f6d"/><rect x="193.80" y="420.0" width="1.35" height="43.8" fill="#3a8f6d"/><rect x="196.69" y="387.7" width="1.35" height="76.1" fill="#3a8f6d"/><rect x="199.57" y="389.6" width="1.35" height="74.2" fill="#3a8f6d"/><rect x="202.45" y="394.2" width="1.35" height="69.6" fill="#3a8f6d"/><rect x="205.34" y="441.8" width="1.35" height="22.0" fill="#3a8f6d"/><rect x="208.22" y="420.4" width="1.35" height="43.4" fill="#3a8f6d"/><rect x="211.11" y="438.6" width="1.35" height="25.2" fill="#3a8f6d"/><rect x="214.00" y="419.4" width="1.35" height="44.4" fill="#3a8f6d"/><rect x="216.88" y="394.2" width="1.35" height="69.6" fill="#3a8f6d"/><rect x="219.76" y="275.0" width="1.35" height="188.8" fill="#3a8f6d"/><rect x="222.65" y="431.5" width="1.35" height="32.3" fill="#3a8f6d"/><rect x="225.53" y="431.5" width="1.35" height="32.3" fill="#3a8f6d"/><rect x="228.42" y="427.8" width="1.35" height="36.0" fill="#3a8f6d"/><rect x="231.31" y="421.8" width="1.35" height="42.0" fill="#3a8f6d"/><rect x="234.19" y="430.0" width="1.35" height="33.8" fill="#3a8f6d"/><rect x="237.07" y="410.0" width="1.35" height="53.8" fill="#3a8f6d"/><rect x="239.96" y="372.0" width="1.35" height="91.8" fill="#3a8f6d"/><rect x="242.84" y="361.7" width="1.35" height="102.1" fill="#3a8f6d"/><rect x="245.73" y="392.0" width="1.35" height="71.8" fill="#3a8f6d"/><rect x="248.61" y="372.8" width="1.35" height="91.0" fill="#3a8f6d"/><rect x="251.50" y="414.8" width="1.35" height="49.0" fill="#3a8f6d"/><rect x="254.38" y="346.8" width="1.35" height="117.0" fill="#3a8f6d"/><rect x="257.27" y="291.4" width="1.35" height="172.4" fill="#3a8f6d"/><rect x="260.15" y="328.2" width="1.35" height="135.6" fill="#3a8f6d"/><rect x="263.04" y="303.9" width="1.35" height="159.9" fill="#3a8f6d"/><rect x="265.92" y="186.2" width="1.35" height="277.6" fill="#3a8f6d"/><rect x="268.81" y="408.2" width="1.35" height="55.6" fill="#3a8f6d"/><rect x="271.69" y="425.6" width="1.35" height="38.2" fill="#3a8f6d"/><rect x="274.58" y="418.9" width="1.35" height="44.9" fill="#3a8f6d"/><rect x="277.47" y="429.3" width="1.35" height="34.5" fill="#3a8f6d"/><rect x="280.35" y="443.1" width="1.35" height="20.7" fill="#3a8f6d"/><rect x="283.24" y="437.5" width="1.35" height="26.3" fill="#3a8f6d"/><rect x="286.12" y="422.2" width="1.35" height="41.6" fill="#3a8f6d"/><rect x="289.00" y="421.0" width="1.35" height="42.8" fill="#3a8f6d"/><rect x="291.89" y="432.5" width="1.35" height="31.3" fill="#3a8f6d"/><rect x="294.77" y="418.9" width="1.35" height="44.9" fill="#3a8f6d"/><rect x="297.66" y="412.0" width="1.35" height="51.8" fill="#3a8f6d"/><rect x="300.54" y="389.0" width="1.35" height="74.8" fill="#3a8f6d"/><rect x="303.43" y="328.2" width="1.35" height="135.6" fill="#3a8f6d"/><rect x="306.31" y="392.0" width="1.35" height="71.8" fill="#3a8f6d"/><rect x="309.20" y="397.0" width="1.35" height="66.8" fill="#3a8f6d"/><rect x="312.08" y="425.6" width="1.35" height="38.2" fill="#3a8f6d"/><rect x="314.97" y="439.0" width="1.35" height="24.8" fill="#3a8f6d"/><rect x="317.86" y="436.8" width="1.35" height="27.0" fill="#3a8f6d"/><rect x="320.74" y="392.0" width="1.35" height="71.8" fill="#3a8f6d"/><rect x="323.62" y="366.4" width="1.35" height="97.4" fill="#3a8f6d"/><rect x="326.51" y="387.7" width="1.35" height="76.1" fill="#3a8f6d"/><rect x="329.39" y="393.3" width="1.35" height="70.5" fill="#3a8f6d"/><rect x="332.28" y="412.0" width="1.35" height="51.8" fill="#3a8f6d"/><rect x="335.16" y="396.1" width="1.35" height="67.7" fill="#3a8f6d"/><rect x="338.05" y="393.3" width="1.35" height="70.5" fill="#3a8f6d"/><rect x="340.93" y="432.5" width="1.35" height="31.3" fill="#3a8f6d"/><rect x="343.82" y="441.8" width="1.35" height="22.0" fill="#3a8f6d"/><rect x="346.71" y="433.8" width="1.35" height="30.0" fill="#3a8f6d"/><rect x="349.59" y="444.6" width="1.35" height="19.2" fill="#3a8f6d"/><rect x="352.48" y="448.0" width="1.35" height="15.8" fill="#3a8f6d"/><rect x="355.36" y="420.4" width="1.35" height="43.4" fill="#3a8f6d"/><rect x="358.25" y="254.2" width="1.35" height="209.6" fill="#3a8f6d"/><rect x="361.13" y="416.6" width="1.35" height="47.2" fill="#3a8f6d"/><rect x="364.01" y="415.7" width="1.35" height="48.1" fill="#3a8f6d"/><rect x="366.90" y="407.3" width="1.35" height="56.5" fill="#3a8f6d"/><rect x="369.78" y="406.4" width="1.35" height="57.4" fill="#3a8f6d"/><rect x="372.67" y="415.7" width="1.35" height="48.1" fill="#3a8f6d"/><rect x="375.55" y="431.5" width="1.35" height="32.3" fill="#3a8f6d"/><rect x="378.44" y="428.2" width="1.35" height="35.6" fill="#3a8f6d"/><rect x="381.32" y="428.2" width="1.35" height="35.6" fill="#3a8f6d"/><rect x="384.21" y="437.1" width="1.35" height="26.7" fill="#3a8f6d"/><rect x="387.10" y="430.6" width="1.35" height="33.2" fill="#3a8f6d"/><rect x="389.98" y="398.0" width="1.35" height="65.8" fill="#3a8f6d"/><rect x="392.87" y="361.2" width="1.35" height="102.6" fill="#3a8f6d"/><rect x="395.75" y="294.6" width="1.35" height="169.2" fill="#3a8f6d"/><rect x="398.63" y="402.6" width="1.35" height="61.2" fill="#3a8f6d"/><rect x="401.52" y="397.0" width="1.35" height="66.8" fill="#3a8f6d"/><rect x="404.40" y="365.5" width="1.35" height="98.3" fill="#3a8f6d"/><rect x="407.29" y="411.0" width="1.35" height="52.8" fill="#3a8f6d"/><rect x="410.17" y="436.8" width="1.35" height="27.0" fill="#3a8f6d"/><rect x="413.06" y="440.0" width="1.35" height="23.8" fill="#3a8f6d"/><rect x="415.94" y="449.8" width="1.35" height="14.0" fill="#3a8f6d"/><rect x="418.83" y="446.8" width="1.35" height="17.0" fill="#3a8f6d"/><rect x="421.72" y="453.5" width="1.35" height="10.3" fill="#3a8f6d"/><rect x="424.60" y="445.5" width="1.35" height="18.3" fill="#3a8f6d"/><rect x="427.49" y="434.9" width="1.35" height="28.9" fill="#3a8f6d"/><rect x="430.37" y="412.5" width="1.35" height="51.3" fill="#3a8f6d"/><rect x="433.25" y="436.2" width="1.35" height="27.6" fill="#3a8f6d"/><rect x="436.14" y="451.7" width="1.35" height="12.1" fill="#3a8f6d"/><rect x="439.02" y="436.2" width="1.35" height="27.6" fill="#3a8f6d"/><rect x="441.91" y="448.0" width="1.35" height="15.8" fill="#3a8f6d"/><rect x="444.79" y="405.0" width="1.35" height="58.8" fill="#3a8f6d"/><rect x="447.68" y="428.7" width="1.35" height="35.1" fill="#3a8f6d"/><rect x="450.56" y="446.5" width="1.35" height="17.3" fill="#3a8f6d"/><rect x="453.45" y="447.4" width="1.35" height="16.4" fill="#3a8f6d"/><rect x="456.33" y="441.2" width="1.35" height="22.6" fill="#3a8f6d"/><rect x="459.22" y="395.2" width="1.35" height="68.6" fill="#3a8f6d"/><rect x="462.11" y="423.7" width="1.35" height="40.1" fill="#3a8f6d"/><rect x="464.99" y="426.9" width="1.35" height="36.9" fill="#3a8f6d"/><rect x="467.88" y="442.7" width="1.35" height="21.1" fill="#3a8f6d"/><rect x="470.76" y="448.0" width="1.35" height="15.8" fill="#3a8f6d"/><rect x="473.64" y="441.2" width="1.35" height="22.6" fill="#3a8f6d"/><rect x="476.53" y="453.9" width="1.35" height="9.9" fill="#3a8f6d"/><rect x="479.41" y="455.8" width="1.35" height="8.0" fill="#3a8f6d"/><rect x="482.30" y="458.6" width="1.35" height="5.2" fill="#3a8f6d"/><rect x="485.18" y="446.8" width="1.35" height="17.0" fill="#3a8f6d"/><rect x="488.07" y="453.9" width="1.35" height="9.9" fill="#3a8f6d"/><rect x="490.95" y="456.7" width="1.35" height="7.1" fill="#3a8f6d"/><rect x="493.84" y="457.7" width="1.35" height="6.1" fill="#3a8f6d"/><rect x="496.73" y="456.0" width="1.35" height="7.8" fill="#3a8f6d"/><rect x="499.61" y="458.0" width="1.35" height="5.8" fill="#3a8f6d"/><rect x="502.50" y="459.3" width="1.35" height="4.5" fill="#3a8f6d"/><rect x="505.38" y="458.8" width="1.35" height="5.0" fill="#3a8f6d"/><rect x="508.26" y="454.3" width="1.35" height="9.5" fill="#3a8f6d"/><rect x="511.15" y="451.1" width="1.35" height="12.7" fill="#3a8f6d"/><rect x="514.03" y="451.7" width="1.35" height="12.1" fill="#3a8f6d"/><rect x="516.92" y="453.5" width="1.35" height="10.3" fill="#3a8f6d"/><rect x="519.80" y="458.6" width="1.35" height="5.2" fill="#3a8f6d"/><rect x="522.69" y="441.2" width="1.35" height="22.6" fill="#3a8f6d"/><rect x="525.57" y="444.2" width="1.35" height="19.6" fill="#3a8f6d"/><rect x="528.46" y="454.3" width="1.35" height="9.5" fill="#3a8f6d"/><rect x="531.35" y="446.5" width="1.35" height="17.3" fill="#3a8f6d"/><rect x="534.23" y="446.5" width="1.35" height="17.3" fill="#3a8f6d"/><rect x="537.12" y="380.3" width="1.35" height="83.5" fill="#3a8f6d"/><rect x="540.00" y="425.6" width="1.35" height="38.2" fill="#3a8f6d"/><rect x="542.88" y="450.2" width="1.35" height="13.6" fill="#3a8f6d"/><rect x="545.77" y="452.4" width="1.35" height="11.4" fill="#3a8f6d"/><rect x="548.65" y="445.5" width="1.35" height="18.3" fill="#3a8f6d"/><rect x="551.54" y="453.9" width="1.35" height="9.9" fill="#3a8f6d"/><rect x="554.42" y="451.1" width="1.35" height="12.7" fill="#3a8f6d"/><rect x="557.31" y="455.4" width="1.35" height="8.4" fill="#3a8f6d"/><rect x="560.19" y="454.9" width="1.35" height="8.9" fill="#3a8f6d"/><rect x="563.08" y="453.5" width="1.35" height="10.3" fill="#3a8f6d"/><rect x="565.96" y="451.7" width="1.35" height="12.1" fill="#3a8f6d"/><rect x="568.85" y="440.5" width="1.35" height="23.3" fill="#3a8f6d"/><rect x="571.74" y="457.3" width="1.35" height="6.5" fill="#3a8f6d"/><rect x="574.62" y="457.3" width="1.35" height="6.5" fill="#3a8f6d"/><rect x="577.50" y="448.3" width="1.35" height="15.5" fill="#3a8f6d"/><rect x="580.39" y="402.6" width="1.35" height="61.2" fill="#3a8f6d"/><rect x="583.27" y="443.7" width="1.35" height="20.1" fill="#3a8f6d"/><rect x="586.16" y="451.7" width="1.35" height="12.1" fill="#3a8f6d"/><rect x="589.04" y="449.3" width="1.35" height="14.5" fill="#3a8f6d"/><rect x="591.93" y="449.8" width="1.35" height="14.0" fill="#3a8f6d"/><rect x="594.81" y="455.8" width="1.35" height="8.0" fill="#3a8f6d"/><rect x="597.70" y="425.0" width="1.35" height="38.8" fill="#3a8f6d"/><rect x="600.58" y="440.9" width="1.35" height="22.9" fill="#3a8f6d"/><rect x="603.47" y="447.4" width="1.35" height="16.4" fill="#3a8f6d"/><rect x="606.35" y="308.2" width="1.35" height="155.6" fill="#3a8f6d"/><rect x="609.24" y="437.3" width="1.35" height="26.5" fill="#3a8f6d"/><rect x="612.12" y="444.2" width="1.35" height="19.6" fill="#3a8f6d"/><rect x="615.01" y="451.7" width="1.35" height="12.1" fill="#3a8f6d"/><rect x="617.89" y="440.0" width="1.35" height="23.8" fill="#3a8f6d"/><rect x="620.78" y="421.3" width="1.35" height="42.5" fill="#3a8f6d"/><rect x="623.66" y="439.0" width="1.35" height="24.8" fill="#3a8f6d"/><rect x="626.55" y="323.9" width="1.35" height="139.9" fill="#3a8f6d"/><rect x="629.43" y="299.2" width="1.35" height="164.6" fill="#3a8f6d"/><rect x="632.32" y="342.5" width="1.35" height="121.3" fill="#3a8f6d"/><rect x="635.20" y="418.1" width="1.35" height="45.7" fill="#3a8f6d"/><rect x="638.09" y="398.9" width="1.35" height="64.9" fill="#3a8f6d"/><rect x="640.97" y="439.4" width="1.35" height="24.4" fill="#3a8f6d"/><rect x="643.86" y="439.0" width="1.35" height="24.8" fill="#3a8f6d"/><rect x="646.74" y="447.4" width="1.35" height="16.4" fill="#3a8f6d"/><rect x="649.63" y="409.2" width="1.35" height="54.6" fill="#3a8f6d"/><rect x="652.51" y="430.0" width="1.35" height="33.8" fill="#3a8f6d"/><rect x="655.40" y="430.0" width="1.35" height="33.8" fill="#3a8f6d"/><rect x="658.28" y="284.0" width="1.35" height="179.8" fill="#3a8f6d"/><rect x="661.17" y="418.5" width="1.35" height="45.3" fill="#3a8f6d"/><rect x="664.05" y="436.8" width="1.35" height="27.0" fill="#3a8f6d"/><rect x="666.94" y="427.8" width="1.35" height="36.0" fill="#3a8f6d"/><rect x="669.82" y="408.2" width="1.35" height="55.6" fill="#3a8f6d"/><rect x="672.71" y="361.7" width="1.35" height="102.1" fill="#3a8f6d"/><rect x="675.59" y="396.1" width="1.35" height="67.7" fill="#3a8f6d"/><rect x="678.48" y="375.2" width="1.35" height="88.6" fill="#3a8f6d"/><rect x="681.36" y="392.8" width="1.35" height="71.0" fill="#3a8f6d"/><rect x="684.25" y="415.7" width="1.35" height="48.1" fill="#3a8f6d"/><rect x="687.13" y="439.0" width="1.35" height="24.8" fill="#3a8f6d"/><rect x="690.02" y="439.2" width="1.35" height="24.6" fill="#3a8f6d"/><rect x="692.90" y="446.5" width="1.35" height="17.3" fill="#3a8f6d"/><rect x="695.79" y="415.7" width="1.35" height="48.1" fill="#3a8f6d"/><rect x="698.67" y="358.6" width="1.35" height="105.2" fill="#3a8f6d"/><rect x="701.56" y="398.0" width="1.35" height="65.8" fill="#3a8f6d"/><rect x="704.44" y="413.8" width="1.35" height="50.0" fill="#3a8f6d"/><rect x="707.33" y="422.6" width="1.35" height="41.2" fill="#3a8f6d"/><rect x="710.21" y="440.0" width="1.35" height="23.8" fill="#3a8f6d"/><rect x="713.10" y="428.2" width="1.35" height="35.6" fill="#3a8f6d"/><rect x="715.98" y="448.0" width="1.35" height="15.8" fill="#3a8f6d"/><rect x="718.87" y="435.3" width="1.35" height="28.5" fill="#3a8f6d"/><rect x="721.75" y="445.5" width="1.35" height="18.3" fill="#3a8f6d"/><rect x="724.64" y="423.2" width="1.35" height="40.6" fill="#3a8f6d"/><rect x="727.52" y="411.0" width="1.35" height="52.8" fill="#3a8f6d"/><rect x="730.41" y="362.3" width="1.35" height="101.5" fill="#3a8f6d"/><rect x="733.29" y="392.0" width="1.35" height="71.8" fill="#3a8f6d"/><rect x="736.18" y="400.8" width="1.35" height="63.0" fill="#3a8f6d"/><rect x="739.06" y="399.8" width="1.35" height="64.0" fill="#3a8f6d"/><rect x="741.95" y="356.1" width="1.35" height="107.7" fill="#3a8f6d"/><rect x="744.83" y="394.2" width="1.35" height="69.6" fill="#3a8f6d"/><rect x="747.72" y="409.2" width="1.35" height="54.6" fill="#3a8f6d"/><rect x="750.60" y="394.2" width="1.35" height="69.6" fill="#3a8f6d"/><rect x="753.49" y="433.4" width="1.35" height="30.4" fill="#3a8f6d"/><rect x="756.37" y="376.0" width="1.35" height="87.8" fill="#3a8f6d"/><rect x="759.26" y="374.1" width="1.35" height="89.7" fill="#3a8f6d"/><rect x="762.14" y="282.8" width="1.35" height="181.0" fill="#3a8f6d"/><rect x="765.03" y="147.5" width="1.35" height="316.3" fill="#3a8f6d"/><rect x="767.91" y="97.0" width="1.35" height="366.8" fill="#3a8f6d"/><rect x="770.80" y="358.0" width="1.35" height="105.8" fill="#3a8f6d"/><rect x="773.68" y="414.4" width="1.35" height="49.4" fill="#3a8f6d"/><rect x="776.57" y="416.6" width="1.35" height="47.2" fill="#3a8f6d"/><rect x="779.45" y="442.7" width="1.35" height="21.1" fill="#3a8f6d"/><rect x="782.34" y="420.7" width="1.35" height="43.1" fill="#3a8f6d"/><rect x="785.22" y="426.9" width="1.35" height="36.9" fill="#3a8f6d"/><rect x="788.11" y="430.0" width="1.35" height="33.8" fill="#3a8f6d"/>
<polyline points="79.0,408.8 81.9,405.4 84.8,391.0 87.5,385.8 90.6,395.6 93.5,392.7 96.3,395.0 99.2,396.7 102.1,395.9 104.8,399.6 107.6,409.4 110.2,389.8 113.6,389.0 116.5,404.8 119.4,404.8 122.3,408.3 125.2,411.7 128.1,414.8 130.9,415.2 133.6,418.6 136.1,405.4 139.0,397.9 142.5,445.0 146.5,429.0 149.2,413.0 151.8,394.0 153.9,375.0 156.7,368.0 159.6,345.6 165.4,362.3 168.3,344.4 171.1,342.1 174.0,351.3 176.9,351.3 179.8,342.1 182.7,327.7 185.6,349.0 188.4,333.5 191.3,340.4 193.6,349.6 194.6,363.8 196.3,387.3 199.8,401.1 202.9,407.1 206.1,398.3 209.0,391.3 211.9,392.5 214.2,391.3 217.1,375.8 218.3,348.8 220.6,324.6 223.4,325.2 226.3,338.5 229.2,348.3 231.5,340.2 234.4,348.8 237.3,356.3 239.6,371.9 240.7,387.3 242.3,423.0 244.0,429.4 246.6,410.3 249.7,401.9 251.9,399.8 257.1,382.9 260.3,361.7 263.5,346.9 266.7,338.5 268.6,332.1 272.1,331.0 275.0,307.3 277.9,306.1 280.8,311.3 283.6,306.1 286.5,303.8 289.4,328.1 292.3,340.7 295.7,313.1 299.2,302.7 301.5,290.0 303.9,257.3 306.5,279.6 312.3,282.5 315.9,284.7 318.1,279.6 323.9,312.1 329.6,266.6 332.8,271.7 338.3,315.0 341.9,309.2 344.8,307.8 347.0,298.4 350.6,312.1 353.4,312.8 355.9,284.0 357.8,309.9 359.3,370.8 362.9,395.3 367.3,414.1 370.9,400.4 375.9,384.5 379.5,411.2 383.9,411.2 388.2,431.4 391.8,419.8 396.1,393.9 401.2,372.2 404.8,391.0 407.7,378.0 414.9,381.6 419.2,378.7 423.5,385.4 426.9,395.8 431.0,406.1 434.4,402.1 439.6,399.8 445.4,376.1 451.1,385.4 454.0,384.8 456.9,376.7 460.4,394.6 462.7,396.9 465.6,382.5 468.4,387.1 471.3,377.9 474.2,386.0 477.1,388.8 480.0,384.8 482.9,386.5 486.3,380.8 488.5,383.8 491.3,379.8 496.5,386.1 501.1,387.1 506.3,387.1 511.5,377.5 515.6,379.2 519.0,380.9 523.1,369.4 525.4,368.8 528.8,372.3 531.7,366.5 535.2,364.8 538.1,355.0 541.5,356.7 546.1,360.2 552.9,361.3 557.5,354.4 561.5,361.3 566.7,372.3 569.6,368.3 574.8,372.3 581.1,390.2 584.0,389.0 590.4,376.3 594.4,378.1 598.4,391.3 601.3,384.4 604.2,382.7 606.5,360.8 609.4,366.0 612.9,356.7 615.7,353.8 618.6,356.1 619.8,346.9 622.1,339.4 623.6,343.6 625.7,322.5 627.9,292.9 629.8,261.5 632.7,257.2 635.3,272.8 638.5,250.6 641.4,254.6 646.6,254.1 650.1,262.7 656.1,249.4 658.7,219.4 662.2,219.9 668.3,238.9 676.1,206.9 682.1,226.9 685.1,210.4 688.0,218.2 690.9,213.9 693.2,227.7 694.9,255.5 696.7,272.8 699.3,270.2 702.6,274.7 705.5,295.0 707.8,279.9 713.7,269.8 719.1,285.1 722.5,283.3 727.8,253.0 731.2,305.0 736.7,296.3 742.5,323.2 745.9,309.3 748.5,305.9 751.6,279.0 754.1,292.0 756.3,268.6 759.8,243.5 762.9,200.0 764.6,147.0 768.5,96.5 771.6,106.4 776.2,124.3 780.2,131.2 784.3,113.9 786.6,107.5 789.0,107.5" fill="none" stroke="#383838" stroke-width="1.15" stroke-linejoin="round"/>
<line x1="73.1" x2="73.1" y1="79.8" y2="463.5" stroke="#7db8a2" stroke-width="1.9"/>
<line x1="846.5" x2="846.5" y1="79.3" y2="463.8" stroke="#2a2a2a" stroke-width="1.2"/>
</svg>
<div class="title">Bitcoin: Taker Buy Volume - Binance</div>
<div class="legend">
 <div style="position:absolute;left:376px;top:7px;width:10px;height:1.6px;background:#b8b8b8"></div>
 <div style="position:absolute;left:390px;top:1px;line-height:13px;font-size:10.8px">Price USD</div>
 <div style="position:absolute;left:450.6px;top:0.8px;width:10.3px;height:10.3px;border-radius:50%;background:#1f9a64"></div>
 <div style="position:absolute;left:465px;top:1px;line-height:13px;font-size:10.8px">Taker Buy Volume</div>
</div>
<div class="yl" style="top:113.8px">1.4B</div><div class="yl" style="top:162.8px">1.2B</div><div class="yl" style="top:211.8px">1B</div><div class="yl" style="top:260.8px">800M</div><div class="yl" style="top:309.8px">600M</div><div class="yl" style="top:358.8px">400M</div><div class="yl" style="top:407.8px">200M</div><div class="yr" style="top:84.5px">$72K</div><div class="yr" style="top:112.2px">$71.5K</div><div class="yr" style="top:140.1px">$71K</div><div class="yr" style="top:168.1px">$70.5K</div><div class="yr" style="top:196.4px">$70K</div><div class="yr" style="top:224.9px">$69.5K</div><div class="yr" style="top:253.5px">$69K</div><div class="yr" style="top:282.4px">$68.5K</div><div class="yr" style="top:311.5px">$68K</div><div class="yr" style="top:340.8px">$67.5K</div><div class="yr" style="top:370.4px">$67K</div><div class="yr" style="top:400.1px">$66.5K</div><div class="yr" style="top:430.1px">$66K</div><div class="xl" style="left:59.0px">Mar 29</div><div class="xl" style="left:128.2px">Mar 30</div><div class="xl" style="left:197.5px">Mar 31</div><div class="xl" style="left:266.7px">Apr 01</div><div class="xl" style="left:335.9px">Apr 02</div><div class="xl" style="left:405.2px">Apr 03</div><div class="xl" style="left:474.4px">Apr 04</div><div class="xl" style="left:543.6px">Apr 05</div><div class="xl" style="left:612.8px">Apr 06</div><div class="xl" style="left:682.1px">Apr 07</div><div class="xl" style="left:751.3px">Apr 08</div><div class="xl" style="left:820.5px">Apr 09</div>
<svg width="928" height="520" viewBox="0 0 928 520" style="position:absolute;left:0;top:0">
<rect x="41.9" y="453.1" width="31.3" height="18.6" fill="#1d9962"/>
<text x="69.5" y="467" text-anchor="end" font-family="Liberation Sans" font-size="10.6" fill="#c8fbe2">1.1M</text>
<rect x="846.4" y="97" width="41.8" height="19.2" fill="#111"/>
<text x="866" y="111" text-anchor="middle" font-family="Liberation Sans" font-size="10" fill="#eee">$71.7K</text>
</svg>
<div style="position:absolute;left:774.3px;top:488.7px;font-size:7.4px;color:#7a7a7a;white-space:nowrap;line-height:9px">© CryptoQuant. All rights reserved</div>
</body></html>
